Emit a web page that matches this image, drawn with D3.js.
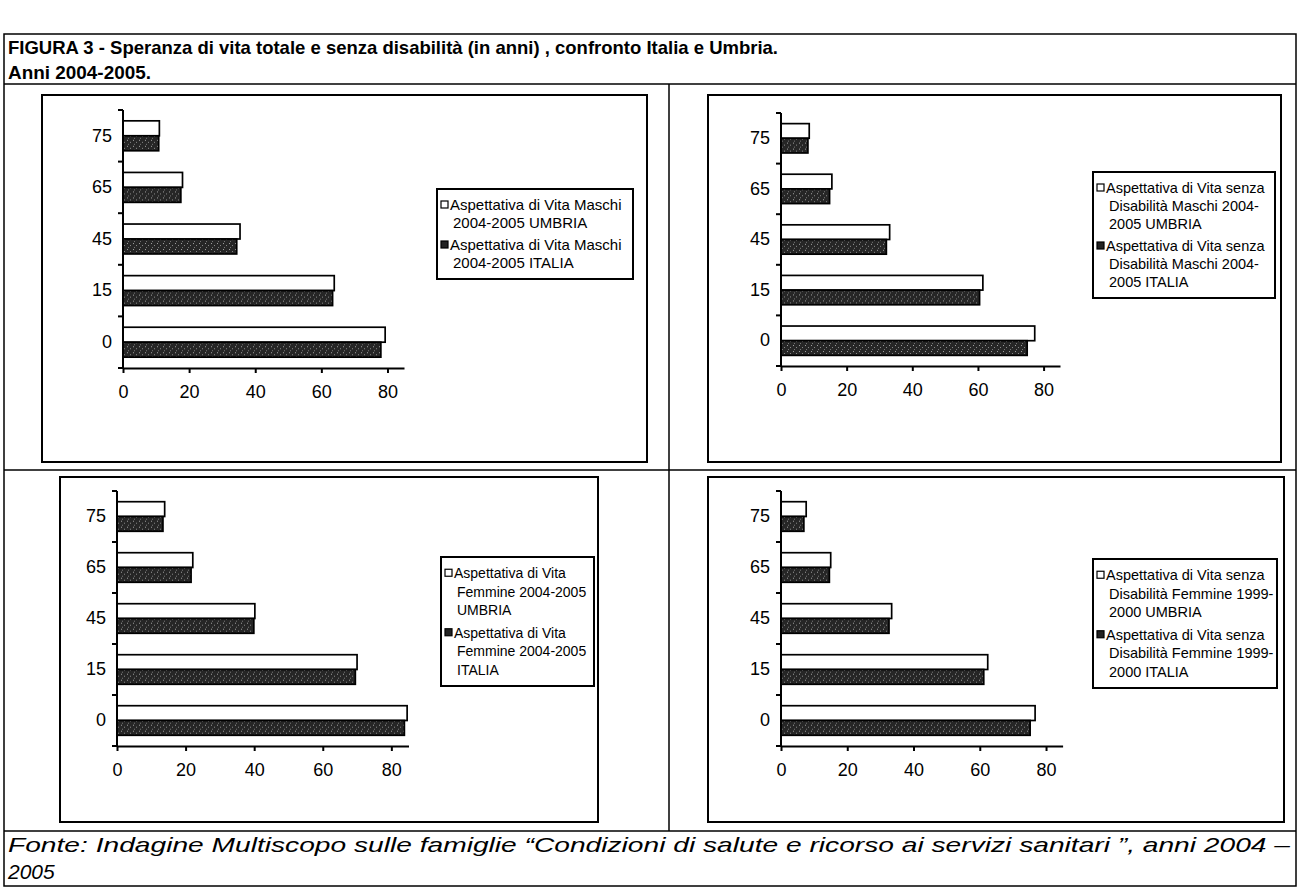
<!DOCTYPE html>
<html>
<head>
<meta charset="utf-8">
<script src="https://cdn.jsdelivr.net/npm/d3@7"></script>
<style>
body { margin: 0; background: #fff; }
svg text { font-family: "Liberation Sans", Arial, sans-serif; fill: #000; }
</style>
</head>
<body>
<script>
// classi di eta' (asse verticale), dall'alto in basso
var ages = ["75", "65", "45", "15", "0"];
var seriesNames = ["UMBRIA", "ITALIA"];
var xTicks = [0, 20, 40, 60, 80];

// valori (anni), stesso ordine di ages
var maschiUmbria = [11.0, 18.0, 35.4, 63.9, 79.3];
var maschiItalia = [10.8, 17.5, 34.4, 63.4, 78.0];
var maschiSdUmbria = [8.6, 15.5, 33.1, 61.5, 77.3];
var maschiSdItalia = [8.2, 14.8, 32.1, 60.5, 75.0];
var femmineUmbria = [13.9, 22.1, 40.2, 70.0, 84.6];
var femmineItalia = [13.4, 21.6, 39.9, 69.5, 83.8];
var femmineSdUmbria = [7.6, 15.0, 33.4, 62.4, 76.7];
var femmineSdItalia = [6.9, 14.6, 32.6, 61.2, 75.2];

// legende (righe come nell'originale)
var legMaschi = [["Aspettativa di Vita Maschi", "2004-2005 UMBRIA"],
                 ["Aspettativa di Vita Maschi", "2004-2005 ITALIA"]];
var legMaschiSd = [["Aspettativa di Vita senza", "Disabilità Maschi 2004-", "2005 UMBRIA"],
                   ["Aspettativa di Vita senza", "Disabilità Maschi 2004-", "2005 ITALIA"]];
var legFemmine = [["Aspettativa di Vita", "Femmine 2004-2005", "UMBRIA"],
                  ["Aspettativa di Vita", "Femmine 2004-2005", "ITALIA"]];
var legFemmineSd = [["Aspettativa di Vita senza", "Disabilità Femmine 1999-", "2000 UMBRIA"],
                    ["Aspettativa di Vita senza", "Disabilità Femmine 1999-", "2000 ITALIA"]];

var titleLines = ["FIGURA 3 - Speranza di vita totale e senza disabilità (in anni) , confronto Italia e Umbria.",
                  "Anni 2004-2005."];
var footerLines = ["Fonte: Indagine Multiscopo sulle famiglie \u201cCondizioni di salute e ricorso ai servizi sanitari \u201d, anni 2004 \u2013",
                   "2005"];

var W = 1299, H = 891;

var svg = d3.select("body").append("svg")
    .attr("width", W)
    .attr("height", H);

// pattern for the dark (ITALIA) bars
var pat = svg.append("defs").append("pattern")
    .attr("id", "dark")
    .attr("width", 6).attr("height", 6)
    .attr("patternUnits", "userSpaceOnUse");
pat.append("rect").attr("width", 6).attr("height", 6).attr("fill", "#262626");
pat.append("rect").attr("x", 1).attr("y", 1).attr("width", 1).attr("height", 1).attr("fill", "#a0a0a0");
pat.append("rect").attr("x", 4).attr("y", 3).attr("width", 1).attr("height", 1).attr("fill", "#8a8a8a");
pat.append("rect").attr("x", 2).attr("y", 5).attr("width", 1).attr("height", 1).attr("fill", "#777");

// outer frame and grid
var midY = 470, footY = 831;
var frame = svg.append("g").attr("stroke", "#000").attr("fill", "none");
frame.append("rect").attr("x", 4).attr("y", 34).attr("width", 1292).attr("height", 852).attr("stroke-width", 1.5);
frame.append("line").attr("x1", 4).attr("x2", 1296).attr("y1", 84).attr("y2", 84).attr("stroke-width", 1.5);
frame.append("line").attr("x1", 4).attr("x2", 1296).attr("y1", midY).attr("y2", midY).attr("stroke-width", 1.5);
frame.append("line").attr("x1", 4).attr("x2", 1296).attr("y1", footY).attr("y2", footY).attr("stroke-width", 1.5);
frame.append("line").attr("x1", 669).attr("x2", 669).attr("y1", 84).attr("y2", footY).attr("stroke-width", 1.5);

// title
var titleWidths = [770, 143];
svg.selectAll(".title")
    .data(titleLines)
    .enter().append("text")
    .attr("class", "title")
    .attr("x", 8)
    .attr("y", function(d, i) { return 54 + i * 25; })
    .attr("textLength", function(d, i) { return titleWidths[i]; })
    .attr("lengthAdjust", "spacingAndGlyphs")
    .style("font-size", "19px")
    .style("font-weight", "bold")
    .text(function(d) { return d; });

// footer (only the long first line is fitted to the frame width)
svg.selectAll(".footer")
    .data(footerLines)
    .enter().append("text")
    .attr("class", "footer")
    .attr("x", 8)
    .attr("y", function(d, i) { return 852 + i * 27; })
    .style("font-size", "21px")
    .style("font-style", "italic")
    .text(function(d) { return d; });
svg.select(".footer")
    .attr("textLength", 1282)
    .attr("lengthAdjust", "spacingAndGlyphs");

// panels
var panels = [
  {box: [42, 95, 647, 462], left: 123, right: 404, top: 110, bottom: 368,
   umbria: maschiUmbria, italia: maschiItalia, legend: legMaschi, lx: 437, ly: 189, lw: 196, fs: 15, lineH: 18},
  {box: [708, 95, 1281, 462], left: 781, right: 1060, top: 113, bottom: 366,
   umbria: maschiSdUmbria, italia: maschiSdItalia, legend: legMaschiSd, lx: 1093, ly: 172, lw: 182, fs: 14.5, lineH: 18},
  {box: [60, 477, 598, 822], left: 117, right: 408.5, top: 491, bottom: 746,
   umbria: femmineUmbria, italia: femmineItalia, legend: legFemmine, lx: 441, ly: 557, lw: 153, fs: 14, lineH: 18.5},
  {box: [708, 477, 1284, 822], left: 781, right: 1062.6, top: 491, bottom: 746,
   umbria: femmineSdUmbria, italia: femmineSdItalia, legend: legFemmineSd, lx: 1093, ly: 559, lw: 184, fs: 14.5, lineH: 18.5}
];

panels.forEach(function(p) {
  var g = svg.append("g");

  // chart area border
  g.append("rect")
    .attr("x", p.box[0]).attr("y", p.box[1])
    .attr("width", p.box[2] - p.box[0]).attr("height", p.box[3] - p.box[1])
    .attr("fill", "#fff").attr("stroke", "#000").attr("stroke-width", 2);

  var x = d3.scaleLinear().domain([0, 85]).range([p.left, p.right]);
  var y0 = d3.scaleBand().domain(ages).range([p.top, p.bottom])
      .paddingInner(0.42).paddingOuter(0.21);
  var y1 = d3.scaleBand().domain(seriesNames).range([0, y0.bandwidth()]);

  var rows = ages.map(function(a, i) {
    return {age: a, vals: [p.umbria[i], p.italia[i]]};
  });

  // bars
  var rg = g.selectAll(".row").data(rows).enter().append("g")
      .attr("transform", function(d) { return "translate(0," + y0(d.age) + ")"; });
  rg.selectAll("rect")
    .data(function(d) { return d.vals.map(function(v, k) { return {s: seriesNames[k], v: v}; }); })
    .enter().append("rect")
    .attr("x", x(0))
    .attr("y", function(d) { return y1(d.s); })
    .attr("width", function(d) { return x(d.v) - x(0); })
    .attr("height", y1.bandwidth())
    .attr("fill", function(d) { return d.s == "UMBRIA" ? "#fff" : "url(#dark)"; })
    .attr("stroke", "#000")
    .attr("stroke-width", 1.7);

  // x axis
  var xAxis = g.append("g")
    .attr("transform", "translate(0," + p.bottom + ")")
    .call(d3.axisBottom(x).tickValues(xTicks).tickSize(5).tickPadding(12).tickSizeOuter(0));
  xAxis.selectAll("path, line").attr("stroke", "#000").attr("stroke-width", 2);
  xAxis.selectAll("text").style("font-size", "18px").style("font-family", "Liberation Sans, Arial, sans-serif");

  // y axis (labels at band centre, ticks between categories like Excel)
  var yAxis = g.append("g")
    .attr("transform", "translate(" + p.left + ",0)")
    .call(d3.axisLeft(y0).tickSize(0).tickPadding(11));
  yAxis.select(".domain").remove();
  yAxis.selectAll("text").style("font-size", "18px").style("font-family", "Liberation Sans, Arial, sans-serif");
  g.append("line")
    .attr("x1", p.left).attr("x2", p.left)
    .attr("y1", p.top).attr("y2", p.bottom)
    .attr("stroke", "#000").attr("stroke-width", 2);
  var step = y0.step();
  g.selectAll(".ytick").data(d3.range(ages.length + 1)).enter().append("line")
    .attr("x1", p.left - 5).attr("x2", p.left)
    .attr("y1", function(i) { return p.top + i * step; })
    .attr("y2", function(i) { return p.top + i * step; })
    .attr("stroke", "#000").attr("stroke-width", 2);

  // legend
  var lineH = p.lineH, gap = 4, pad = 7;
  var nLines = p.legend[0].length + p.legend[1].length;
  var lh = pad * 2 + nLines * lineH + gap;
  var lg = g.append("g").attr("transform", "translate(" + p.lx + "," + p.ly + ")");
  lg.append("rect").attr("width", p.lw).attr("height", lh)
    .attr("fill", "#fff").attr("stroke", "#000").attr("stroke-width", 2);
  p.legend.forEach(function(lines, k) {
    var y = pad + k * (p.legend[0].length * lineH + gap);
    lg.append("rect")
      .attr("x", 4).attr("y", y + lineH / 2 - 4)
      .attr("width", 7).attr("height", 7)
      .attr("fill", k == 0 ? "#fff" : "#222")
      .attr("stroke", "#000").attr("stroke-width", 1.2);
    lg.selectAll(".l" + k).data(lines).enter().append("text")
      .attr("x", function(d, i) { return i == 0 ? 13 : 16; })
      .attr("y", function(d, i) { return y + i * lineH + lineH / 2; })
      .attr("dy", "0.35em")
      .style("font-size", p.fs + "px")
      .text(function(d) { return d; });
  });
});
</script>
</body>
</html>
